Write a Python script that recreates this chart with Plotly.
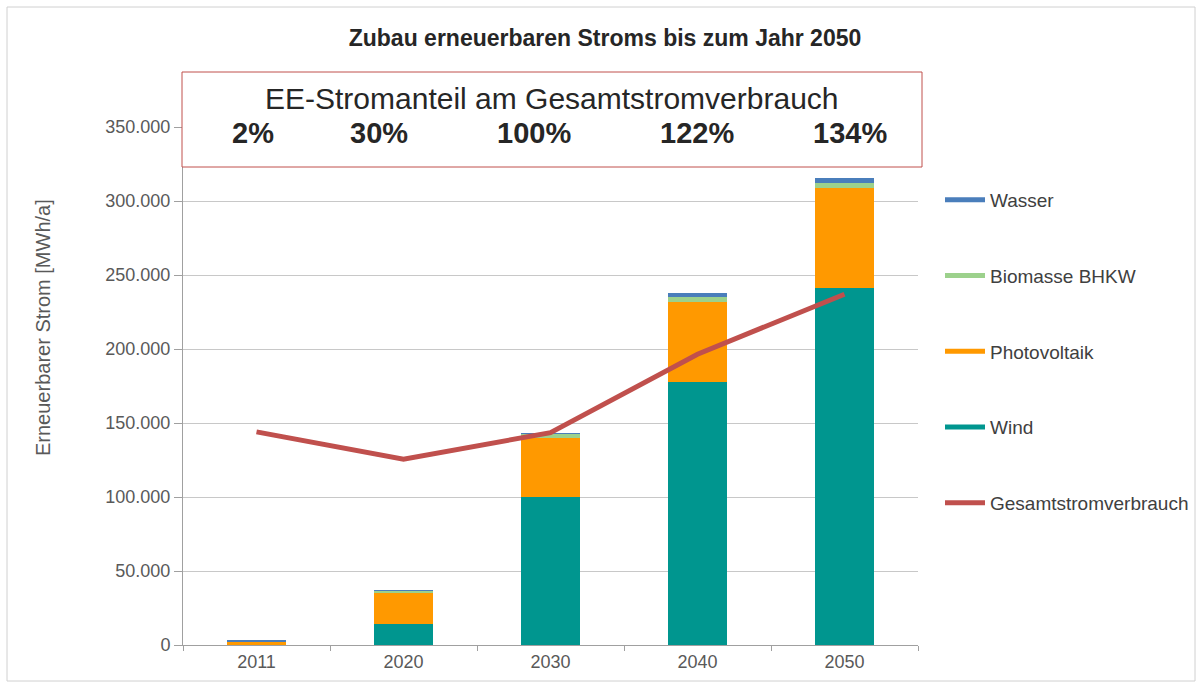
import plotly.graph_objects as go

# ---- data ----
years = ["2011", "2020", "2030", "2040", "2050"]
wind = [0, 14200, 100000, 178000, 241000]
photovoltaik = [2200, 21600, 40000, 54000, 67800]
biomasse = [400, 700, 2700, 3400, 3200]
wasser = [300, 300, 500, 2700, 3500]
gesamtstromverbrauch = [144000, 125500, 143500, 196500, 237000]
anteil_labels = ["2%", "30%", "100%", "122%", "134%"]
y_ticks = [0, 50000, 100000, 150000, 200000, 250000, 300000, 350000]

C_WIND = "#00968F"
C_PV = "#FF9900"
C_BIO = "#9CD18C"
C_WASSER = "#4A7EBB"
C_GES = "#C0504D"

FONT = "Liberation Sans, Arial, sans-serif"
GRAY_TXT = "#595959"

W, H = 1202, 689
# plot area in page pixels
PL, PR, PT, PB = 183, 918, 127, 645
pw, ph = PR - PL, PB - PT


def px(x):
    return (x - PL) / pw


def py(y):
    return (PB - y) / ph


fig = go.Figure()

bar_w = 0.4
for name, vals, col in [("Wind", wind, C_WIND), ("Photovoltaik", photovoltaik, C_PV),
                        ("Biomasse BHKW", biomasse, C_BIO), ("Wasser", wasser, C_WASSER)]:
    fig.add_trace(go.Bar(x=years, y=vals, name=name, marker=dict(color=col, line=dict(width=0)),
                         width=bar_w, showlegend=False))

fig.add_trace(go.Scatter(x=years, y=gesamtstromverbrauch, mode="lines", name="Gesamtstromverbrauch",
                         line=dict(color=C_GES, width=5), showlegend=False))

# legend entries drawn as line samples, like the reference
legend_items = [("Wasser", C_WASSER), ("Biomasse BHKW", C_BIO), ("Photovoltaik", C_PV),
                ("Wind", C_WIND), ("Gesamtstromverbrauch", C_GES)]
for i, (name, col) in enumerate(legend_items):
    fig.add_trace(go.Scatter(x=[None], y=[None], mode="lines", name=name,
                             line=dict(color=col, width=5), legendgroup=name,
                             legendrank=i + 1, showlegend=True))

annotations = []
# y-axis title
annotations.append(dict(text="Erneuerbarer Strom [MWh/a]", xref="paper", yref="paper",
                        x=px(43), y=py(328), textangle=-90, showarrow=False,
                        font=dict(family=FONT, size=20, color=GRAY_TXT),
                        xanchor="center", yanchor="middle"))
# headline in box
annotations.append(dict(text="EE-Stromanteil am Gesamtstromverbrauch", xref="paper", yref="paper",
                        x=px(552), y=py(98), showarrow=False,
                        font=dict(family=FONT, size=30, color="#262626"),
                        xanchor="center", yanchor="middle"))
pct_x = [253, 379, 534, 697, 850]
for lab, xx in zip(anteil_labels, pct_x):
    annotations.append(dict(text="<b>%s</b>" % lab, xref="paper", yref="paper",
                            x=px(xx), y=py(133), showarrow=False,
                            font=dict(family=FONT, size=29, color="#262626"),
                            xanchor="center", yanchor="middle"))

shapes = [
    # outer border
    dict(type="rect", xref="paper", yref="paper", x0=px(7), x1=px(1195), y0=py(681), y1=py(7),
         line=dict(color="#D0D0D0", width=1), fillcolor="rgba(0,0,0,0)", layer="below"),
    # box with share texts
    dict(type="rect", xref="paper", yref="paper", x0=px(182), x1=px(922), y0=py(167), y1=py(72),
         line=dict(color="#C0504D", width=1), fillcolor="white", layer="above"),
]

fig.update_layout(
    width=W, height=H,
    margin=dict(l=PL, r=W - PR, t=PT, b=H - PB, pad=0, autoexpand=False),
    paper_bgcolor="white", plot_bgcolor="white",
    barmode="stack",
    separators=",.",
    font=dict(family=FONT, size=17, color=GRAY_TXT),
    title=dict(text="<b>Zubau erneuerbaren Stroms bis zum Jahr 2050</b>",
               x=605 / W, xanchor="center", y=1 - 38 / H, yanchor="middle",
               font=dict(family=FONT, size=23, color="#262626")),
    xaxis=dict(type="category", showgrid=False, showline=True, linecolor="#A0A0A0",
               ticks="outside", tickson="boundaries", ticklen=5, tickcolor="#A0A0A0",
               tickfont=dict(family=FONT, size=18, color=GRAY_TXT)),
    yaxis=dict(range=[0, 350000], tickvals=y_ticks, tickformat=",d",
               showgrid=True, gridcolor="#C8C8C8", gridwidth=1,
               showline=True, linecolor="#A0A0A0", ticks="outside", ticklen=8,
               tickcolor="#A0A0A0", zeroline=False,
               tickfont=dict(family=FONT, size=18, color=GRAY_TXT)),
    legend=dict(x=px(940), y=py(181), xanchor="left", yanchor="top",
                font=dict(family=FONT, size=19, color="#404040"),
                tracegroupgap=48, itemwidth=40, bgcolor="rgba(0,0,0,0)"),
    annotations=annotations,
    shapes=shapes,
)

fig.write_html("out.html", config={"displayModeBar": False},
               post_script="document.body.style.margin='0';document.body.style.overflow='hidden';")
